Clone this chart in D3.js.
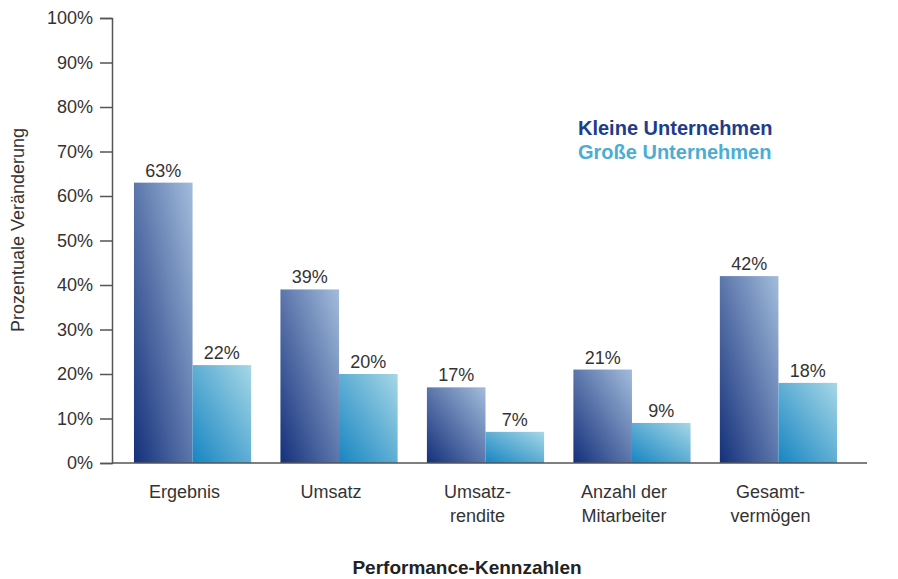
<!DOCTYPE html>
<html>
<head>
    <meta charset="utf-8" />
    <style>
        body { margin: 0; background: #fff; }
        svg { display: block; font-family: Arial, "Liberation Sans", sans-serif; }
        .value { fill: #333; font-size: 18px; text-anchor: middle; }
        .cat { fill: #333; font-size: 18px; text-anchor: middle; }
    </style>
</head>
<body>
<div id="chart"></div>
<script src="https://d3js.org/d3.v7.min.js"></script>
<script>
    var categories = [["Ergebnis"], ["Umsatz"], ["Umsatz-", "rendite"], ["Anzahl der", "Mitarbeiter"], ["Gesamt-", "vermögen"]];
    var seriesNames = ["Kleine Unternehmen", "Große Unternehmen"];
    var kleine = [63, 39, 17, 21, 42];
    var grosse = [22, 20, 7, 9, 18];
    var yTicks = [0, 10, 20, 30, 40, 50, 60, 70, 80, 90, 100];

    var width = 898, height = 579;
    var svg = d3.select('#chart').append('svg')
        .attr('width', width)
        .attr('height', height);

    // gradients: dark bottom-left to light top-right
    var defs = svg.append('defs');
    var gradColors = [['#14307a', '#a3bcdc'], ['#1785c2', '#a6d7e6']];
    gradColors.forEach(function(c, i) {
        var g = defs.append('linearGradient')
            .attr('id', 'grad' + i)
            .attr('x1', 0).attr('y1', 1)
            .attr('x2', 1).attr('y2', 0);
        g.append('stop').attr('offset', '0%').attr('stop-color', c[0]);
        g.append('stop').attr('offset', '100%').attr('stop-color', c[1]);
    });

    var x0 = 112, yBase = 463;
    var y = d3.scaleLinear().domain([0, 100]).range([yBase, 18]);

    var x = d3.scaleBand()
        .domain(d3.range(categories.length))
        .range([x0, 859])
        .paddingInner(0.2)
        .paddingOuter(0.15);

    var xs = d3.scaleBand()
        .domain([0, 1])
        .range([0, x.bandwidth()]);

    // y axis
    var yAxis = d3.axisLeft(y)
        .tickValues(yTicks)
        .tickSize(12)
        .tickPadding(7)
        .tickFormat(function(d) { return d + '%'; });
    var ya = svg.append('g')
        .attr('transform', 'translate(' + x0 + ',0)')
        .call(yAxis);
    ya.attr('font-size', 18).attr('font-family', 'Arial, "Liberation Sans", sans-serif');
    ya.select('.domain').attr('stroke', '#555').attr('stroke-width', 1.5);
    ya.selectAll('.tick line').attr('stroke', '#555').attr('stroke-width', 1.5);
    ya.selectAll('.tick text').attr('fill', '#333');

    // bars
    var data = [kleine, grosse];
    data.forEach(function(vals, s) {
        svg.append('g').selectAll('rect')
            .data(vals)
            .enter()
            .append('rect')
            .attr('x', function(d, i) { return x(i) + xs(s); })
            .attr('y', function(d) { return y(d); })
            .attr('width', xs.bandwidth())
            .attr('height', function(d) { return yBase - y(d); })
            .attr('fill', 'url(#grad' + s + ')');

        svg.append('g').selectAll('text')
            .data(vals)
            .enter()
            .append('text')
            .attr('class', 'value')
            .attr('x', function(d, i) { return x(i) + xs(s) + xs.bandwidth() / 2; })
            .attr('y', function(d) { return y(d) - 6; })
            .text(function(d) { return d + '%'; });
    });

    // x axis line
    svg.append('line')
        .attr('x1', x0).attr('x2', 867)
        .attr('y1', yBase).attr('y2', yBase)
        .attr('stroke', '#555').attr('stroke-width', 1.5);

    // category labels
    categories.forEach(function(lines, i) {
        var cx = x(i) + x.bandwidth() / 2 - 8;
        var t = svg.append('text')
            .attr('class', 'cat')
            .attr('x', cx)
            .attr('y', 498);
        lines.forEach(function(l, j) {
            t.append('tspan')
                .attr('x', cx)
                .attr('dy', j === 0 ? 0 : 24)
                .text(l);
        });
    });

    // axis titles
    svg.append('text')
        .attr('x', 467).attr('y', 574)
        .attr('text-anchor', 'middle')
        .attr('font-size', 19).attr('font-weight', 'bold').attr('fill', '#222')
        .text('Performance-Kennzahlen');

    svg.append('text')
        .attr('transform', 'translate(24,230) rotate(-90)')
        .attr('text-anchor', 'middle')
        .attr('font-size', 18).attr('fill', '#333')
        .text('Prozentuale Veränderung');

    // legend
    var legendColors = ['#1d3d8c', '#4badd3'];
    seriesNames.forEach(function(n, i) {
        svg.append('text')
            .attr('x', 578).attr('y', 135 + i * 24)
            .attr('font-size', 20).attr('font-weight', 'bold')
            .attr('fill', legendColors[i])
            .text(n);
    });
</script>
</body>
</html>
